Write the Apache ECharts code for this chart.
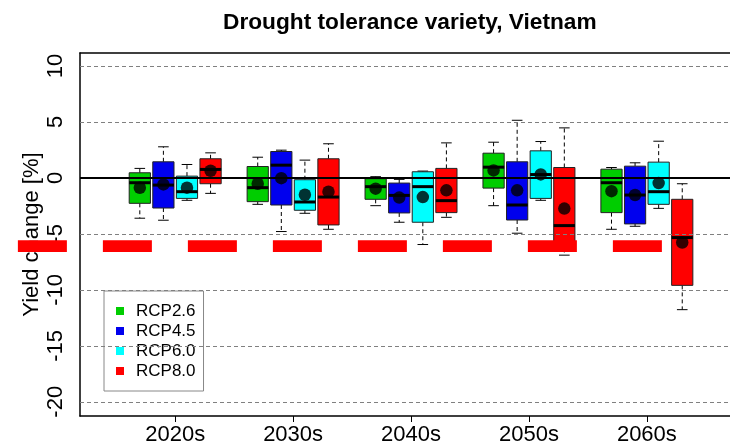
<!DOCTYPE html>
<html>
<head>
<meta charset="utf-8">
<script src="https://cdn.jsdelivr.net/npm/echarts@6/dist/echarts.min.js"></script>
<style>html,body{margin:0;padding:0;background:#fff;}#c{width:730px;height:446px;}</style>
</head>
<body>
<div id="c"></div>
<script>
const categories = ['2020s', '2030s', '2040s', '2050s', '2060s'];
const scenarios = ['RCP2.6', 'RCP4.5', 'RCP6.0', 'RCP8.0'];
const scenarioColors = ['#00CD00', '#0000EE', '#00FFFF', '#FF0000'];
// [lower whisker, Q1, median, Q3, upper whisker] per decade
const rcp26 = [[-3.6, -2.27, -0.43, 0.46, 0.85], [-2.36, -2.12, -0.87, 1.02, 1.85], [-2.48, -1.91, -0.78, -0.07, 0.11], [-2.48, -0.91, 0.96, 2.21, 3.19], [-4.59, -3.1, -0.43, 0.78, 0.93]];
const rcp45 = [[-3.78, -2.69, -0.64, 1.44, 2.78], [-4.79, -2.42, 1.14, 2.36, 2.48], [-3.96, -3.13, -1.56, -0.46, -0.13], [-4.94, -3.76, -2.42, 1.44, 5.15], [-4.32, -4.11, -1.53, 1.05, 1.35]];
const rcp60 = [[-2.0, -1.83, -1.23, 0.16, 1.2], [-3.16, -2.89, -2.15, -0.16, 1.59], [-5.95, -3.96, -0.78, 0.55, 0.61], [-2.0, -1.83, 0.3, 2.42, 3.25], [-2.72, -2.36, -1.23, 1.41, 3.28]];
const rcp80 = [[-1.38, -0.52, 0.76, 1.71, 2.24], [-4.59, -4.2, -1.71, 1.71, 3.05], [-3.52, -3.1, -2.03, 0.85, 3.13], [-6.9, -6.3, -4.26, 0.93, 4.47], [-11.77, -9.6, -5.33, -1.91, -0.52]];
// means (black dots)
const mean26 = [-0.88, -0.52, -0.96, 0.67, -1.18];
const mean45 = [-0.58, -0.02, -1.76, -1.11, -1.53];
const mean60 = [-0.87, -1.5, -1.71, 0.31, -0.46];
const mean80 = [0.64, -1.23, -1.11, -2.74, -5.77];
const yTicks = [-20, -15, -10, -5, 0, 5, 10];
const refLineValue = -6.1;
const refLineFrom = -4.17;
const refLineTo = 23.15;

const boxSets = [rcp26, rcp45, rcp60, rcp80];
const meanSets = [mean26, mean45, mean60, mean80];
const FONT = 'Liberation Sans';
const X_MIN = -1.536, X_MAX = 26.025;

function slot(d, s) { return d * 5 + s + 1; }
const xTickVals = categories.map((c, d) => d * 5 + 2.5);

function renderBox(params, api) {
  const x = api.value(0);
  const lo = api.coord([x, api.value(1)]);
  const q1 = api.coord([x, api.value(2)]);
  const med = api.coord([x, api.value(3)]);
  const q3 = api.coord([x, api.value(4)]);
  const hi = api.coord([x, api.value(5)]);
  const w = api.size([0.9, 0])[0];
  const cx = lo[0];
  const color = api.visual('color');
  const dash = { stroke: '#000', lineWidth: 1, lineDash: [4, 3] };
  const solid = { stroke: '#000', lineWidth: 1 };
  return {
    type: 'group',
    children: [
      { type: 'line', shape: { x1: cx, y1: q3[1], x2: cx, y2: hi[1] }, style: dash },
      { type: 'line', shape: { x1: cx, y1: q1[1], x2: cx, y2: lo[1] }, style: dash },
      { type: 'line', shape: { x1: cx - w / 4, y1: hi[1], x2: cx + w / 4, y2: hi[1] }, style: solid },
      { type: 'line', shape: { x1: cx - w / 4, y1: lo[1], x2: cx + w / 4, y2: lo[1] }, style: solid },
      { type: 'rect', shape: { x: cx - w / 2, y: q3[1], width: w, height: q1[1] - q3[1] }, style: { fill: color, stroke: '#222', lineWidth: 1 } },
      { type: 'line', shape: { x1: cx - w / 2, y1: med[1], x2: cx + w / 2, y2: med[1] }, style: { stroke: '#000', lineWidth: 3 } }
    ]
  };
}

const series = [];
// gridlines
series.push({
  type: 'scatter', data: [], z: 1, silent: true,
  markLine: {
    symbol: 'none', silent: true, label: { show: false },
    lineStyle: { color: '#808080', type: [4, 3], width: 1 },
    data: yTicks.filter(v => v !== 0).map(v => ({ yAxis: v }))
  }
});
scenarios.forEach((name, s) => {
  series.push({
    type: 'custom', name: name, z: 2,
    itemStyle: { color: scenarioColors[s] },
    renderItem: renderBox,
    encode: { x: 0, y: [1, 2, 3, 4, 5] },
    data: boxSets[s].map((b, d) => [slot(d, s)].concat(b))
  });
});
// zero line
series.push({
  type: 'scatter', data: [], z: 3, silent: true,
  markLine: {
    symbol: 'none', silent: true, label: { show: false },
    lineStyle: { color: '#000', type: 'solid', width: 2 },
    data: [{ yAxis: 0 }]
  }
});
// means
const meanData = [];
meanSets.forEach((m, s) => m.forEach((v, d) => meanData.push([slot(d, s), v])));
series.push({
  type: 'scatter', z: 4, symbol: 'circle', symbolSize: 12.5,
  itemStyle: { color: '#000' }, data: meanData
});
// red dashed reference band
series.push({
  type: 'custom', z: 6, clip: false, silent: true,
  encode: { x: [0, 1], y: 2 },
  data: [[refLineFrom, refLineTo, refLineValue]],
  renderItem: function (params, api) {
    const p1 = api.coord([api.value(0), api.value(2)]);
    const p2 = api.coord([api.value(1), api.value(2)]);
    return {
      type: 'line',
      shape: { x1: p1[0], y1: p1[1], x2: p2[0], y2: p2[1] },
      style: { stroke: '#FF0000', lineWidth: 11.7, lineDash: [49, 36], lineCap: 'butt' }
    };
  }
});

const chart = echarts.init(document.getElementById('c'), null, { renderer: 'canvas' });
chart.setOption({
  animation: false,
  backgroundColor: '#fff',
  textStyle: { fontFamily: FONT },
  title: {
    text: 'Drought tolerance variety, Vietnam',
    left: 218, top: 6,
    textStyle: { fontFamily: FONT, fontSize: 22.7, fontWeight: 'bold', color: '#000' }
  },
  legend: {
    orient: 'vertical', left: 104, top: 291,
    data: scenarios.map(n => ({ name: n, icon: 'rect' })),
    itemWidth: 8, itemHeight: 8, itemGap: 0,
    padding: [10, 8, 10, 12],
    borderColor: '#888', borderWidth: 1, backgroundColor: '#fff',
    textStyle: { fontFamily: FONT, fontSize: 17, color: '#000', lineHeight: 20, padding: [0, 0, 0, 7] },
    selectedMode: false
  },
  grid: { left: 80, right: 0, top: 53, bottom: 29, show: false },
  xAxis: [{
    type: 'value', min: X_MIN, max: X_MAX,
    axisLine: { show: true, onZero: false, lineStyle: { color: '#000', width: 1.5 } },
    axisTick: { show: true, customValues: xTickVals, length: 6, lineStyle: { color: '#000', width: 1 } },
    axisLabel: {
      customValues: xTickVals, fontFamily: FONT, fontSize: 22, color: '#000', margin: 8,
      formatter: v => categories[Math.round((v - 2.5) / 5)]
    },
    splitLine: { show: false }
  }, {
    type: 'value', min: X_MIN, max: X_MAX, position: 'top',
    axisLine: { show: true, onZero: false, lineStyle: { color: '#000', width: 1.5 } },
    axisTick: { show: false }, axisLabel: { show: false }, splitLine: { show: false }
  }],
  yAxis: {
    type: 'value', min: -21.27, max: 11.16,
    name: 'Yield change [%]', nameLocation: 'middle', nameGap: 37, nameMoveOverlap: false,
    nameTextStyle: { fontFamily: FONT, fontSize: 22, color: '#000' },
    axisLine: { show: true, onZero: false, lineStyle: { color: '#000', width: 1.5 } },
    axisTick: { show: false },
    axisLabel: { customValues: yTicks, rotate: 90, fontFamily: FONT, fontSize: 22, color: '#000', margin: 13 },
    splitLine: { show: false }
  },
  series: series
});
</script>
</body>
</html>
